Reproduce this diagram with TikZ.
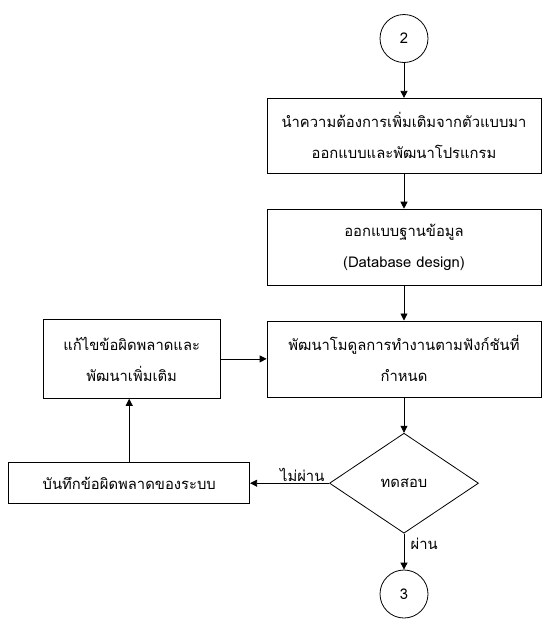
\documentclass[tikz,border=0pt]{standalone}
\usepackage{fontspec}
\newfontfamily\thaifont[Script=Thai]{Loma}
\usepackage{tikz}
\usetikzlibrary{positioning}
\usetikzlibrary{shapes.geometric}
\usetikzlibrary{arrows.meta}
\tikzset{
    flow chart/.style={
            node distance=35pt,
            every node/.style={font={\thaifont\fontsize{14.8}{31}\selectfont}},
            arrow/.style={-{Triangle[length=7pt,width=7pt]}},
            process/.style={draw,rectangle,align=center,inner sep=2pt},
            decision/.style={draw,diamond,align=center,inner sep=0pt,
                minimum width=149pt,minimum height=100pt},
            connector/.style={draw,circle,minimum size=48pt,inner sep=0pt}
        }
    }

\begin{document}
\begin{tikzpicture}[flow chart, x=1pt, y=-1pt, line width=0.8pt]
    \useasboundingbox (0,0) rectangle (558,630);
    \node[connector] (c2) at (404,38.5) {2};
    \node[process, minimum width=274pt, minimum height=75pt] (req) [below=of c2]
        {นำความต้องการเพิ่มเติมจากตัวแบบมา\\ออกแบบและพัฒนาโปรแกรม};
    \node[process, minimum width=274pt, minimum height=76pt] (db) [below=of req]
        {ออกแบบฐานข้อมูล\\(Database design)};
    \node[process, minimum width=274pt, minimum height=76pt] (dev) [below=of db]
        {พัฒนาโมดูลการทำงานตามฟังก์ชันที่\\กำหนด};
    \node[decision] (test) [below=35.5pt of dev] {ทดสอบ};
    \node[connector] (c3) [below=36pt of test] {3};
    \node[process, minimum width=177pt, minimum height=79pt] (fix) [left=46pt of dev]
        {แก้ไขข้อผิดพลาดและ\\พัฒนาเพิ่มเติม};
    \node[process, minimum width=241pt, minimum height=41pt] (log) [left=79pt of test]
        {บันทึกข้อผิดพลาดของระบบ};
    \draw [arrow] (c2) -- (req);
    \draw [arrow] (req) -- (db);
    \draw [arrow] (db) -- (dev);
    \draw [arrow] (dev) -- (test);
    \draw [arrow] (test) -- (c3) node [pos=0.28,right=3pt] {ผ่าน};
    \draw [arrow] (test) -- (log) node [pos=0.34,above=-2pt] {ไม่ผ่าน};
    \draw [arrow] (log) -- (log |- fix.south);
    \draw [arrow] (fix) -- (dev);
\end{tikzpicture}
\end{document}
